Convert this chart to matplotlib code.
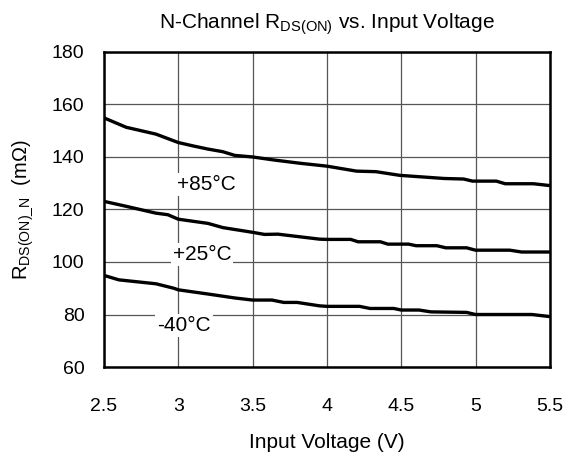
import matplotlib
matplotlib.use("Agg")
import matplotlib.pyplot as plt

plt.rcParams['font.family'] = ['Liberation Sans', 'DejaVu Sans']
plt.rcParams['mathtext.default'] = 'regular'

v85 = [2.5, 2.65, 2.85, 3.0, 3.1, 3.2, 3.3, 3.38, 3.5, 3.65, 3.82, 4.0, 4.2, 4.33, 4.49, 4.79, 4.92, 4.98, 5.14, 5.2, 5.39, 5.5]
r85 = [154.9, 151.3, 148.7, 145.5, 144.2, 143.0, 142.0, 140.6, 140.0, 138.8, 137.6, 136.5, 134.6, 134.4, 133.0, 131.8, 131.6, 130.8, 130.8, 129.8, 129.8, 129.1]

v25 = [2.5, 2.65, 2.85, 2.93, 3.0, 3.2, 3.3, 3.5, 3.58, 3.67, 3.95, 4.0, 4.16, 4.21, 4.36, 4.41, 4.55, 4.6, 4.74, 4.8, 4.94, 5.0, 5.23, 5.31, 5.5]
r25 = [123.1, 121.2, 118.6, 118.0, 116.3, 114.7, 113.1, 111.3, 110.5, 110.6, 108.7, 108.6, 108.6, 107.7, 107.7, 106.8, 106.8, 106.2, 106.2, 105.4, 105.4, 104.5, 104.5, 103.8, 103.8]

vm40 = [2.5, 2.6, 2.85, 2.97, 3.0, 3.2, 3.38, 3.5, 3.63, 3.71, 3.8, 3.95, 4.0, 4.22, 4.29, 4.45, 4.5, 4.62, 4.7, 4.94, 5.0, 5.38, 5.5]
rm40 = [94.9, 93.2, 91.7, 90.0, 89.4, 87.8, 86.3, 85.5, 85.5, 84.6, 84.6, 83.3, 83.1, 83.1, 82.3, 82.3, 81.7, 81.7, 81.0, 80.8, 80.0, 80.0, 79.2]

labels = ['+85°C', '+25°C', '-40°C']
label_pos = [(3.19, 129.6), (3.16, 102.8), (3.04, 75.8)]

xticks = [2.5, 3, 3.5, 4, 4.5, 5, 5.5]
xticklabels = ['2.5', '3', '3.5', '4', '4.5', '5', '5.5']
yticks = [60, 80, 100, 120, 140, 160, 180]

fig = plt.figure(figsize=(5.68, 4.54), dpi=100)
ax = fig.add_axes([0.183, 0.1916, 0.785, 0.694])

for v, r in [(v85, r85), (v25, r25), (vm40, rm40)]:
    ax.plot(v, r, color='black', lw=2.4, solid_capstyle='butt', zorder=3)

for lab, (x, y) in zip(labels, label_pos):
    ax.text(x, y, lab, ha='center', va='center', fontsize=15, zorder=4,
            bbox=dict(facecolor='white', edgecolor='none', pad=1.5))

ax.set_xlim(2.5, 5.5)
ax.set_ylim(60, 180)
ax.set_xticks(xticks)
ax.set_xticklabels(xticklabels)
ax.set_yticks(yticks)
ax.grid(True, color='#555555', lw=0.9)
ax.set_axisbelow(True)
ax.tick_params(length=0, labelsize=14)
ax.tick_params(axis='x', pad=22)
ax.tick_params(axis='y', pad=14)
for s in ax.spines.values():
    s.set_linewidth(1.8)
    s.set_color('black')

ax.set_title(r'N-Channel R$_{DS(ON)}$ vs. Input Voltage', fontsize=15, pad=17)
ax.set_xlabel('Input Voltage (V)', fontsize=15, labelpad=13)
ax.set_ylabel(r'R$_{DS(ON)\_N}$  (mΩ)', fontsize=14.5, labelpad=12)

fig.savefig('out.png', dpi=100)
